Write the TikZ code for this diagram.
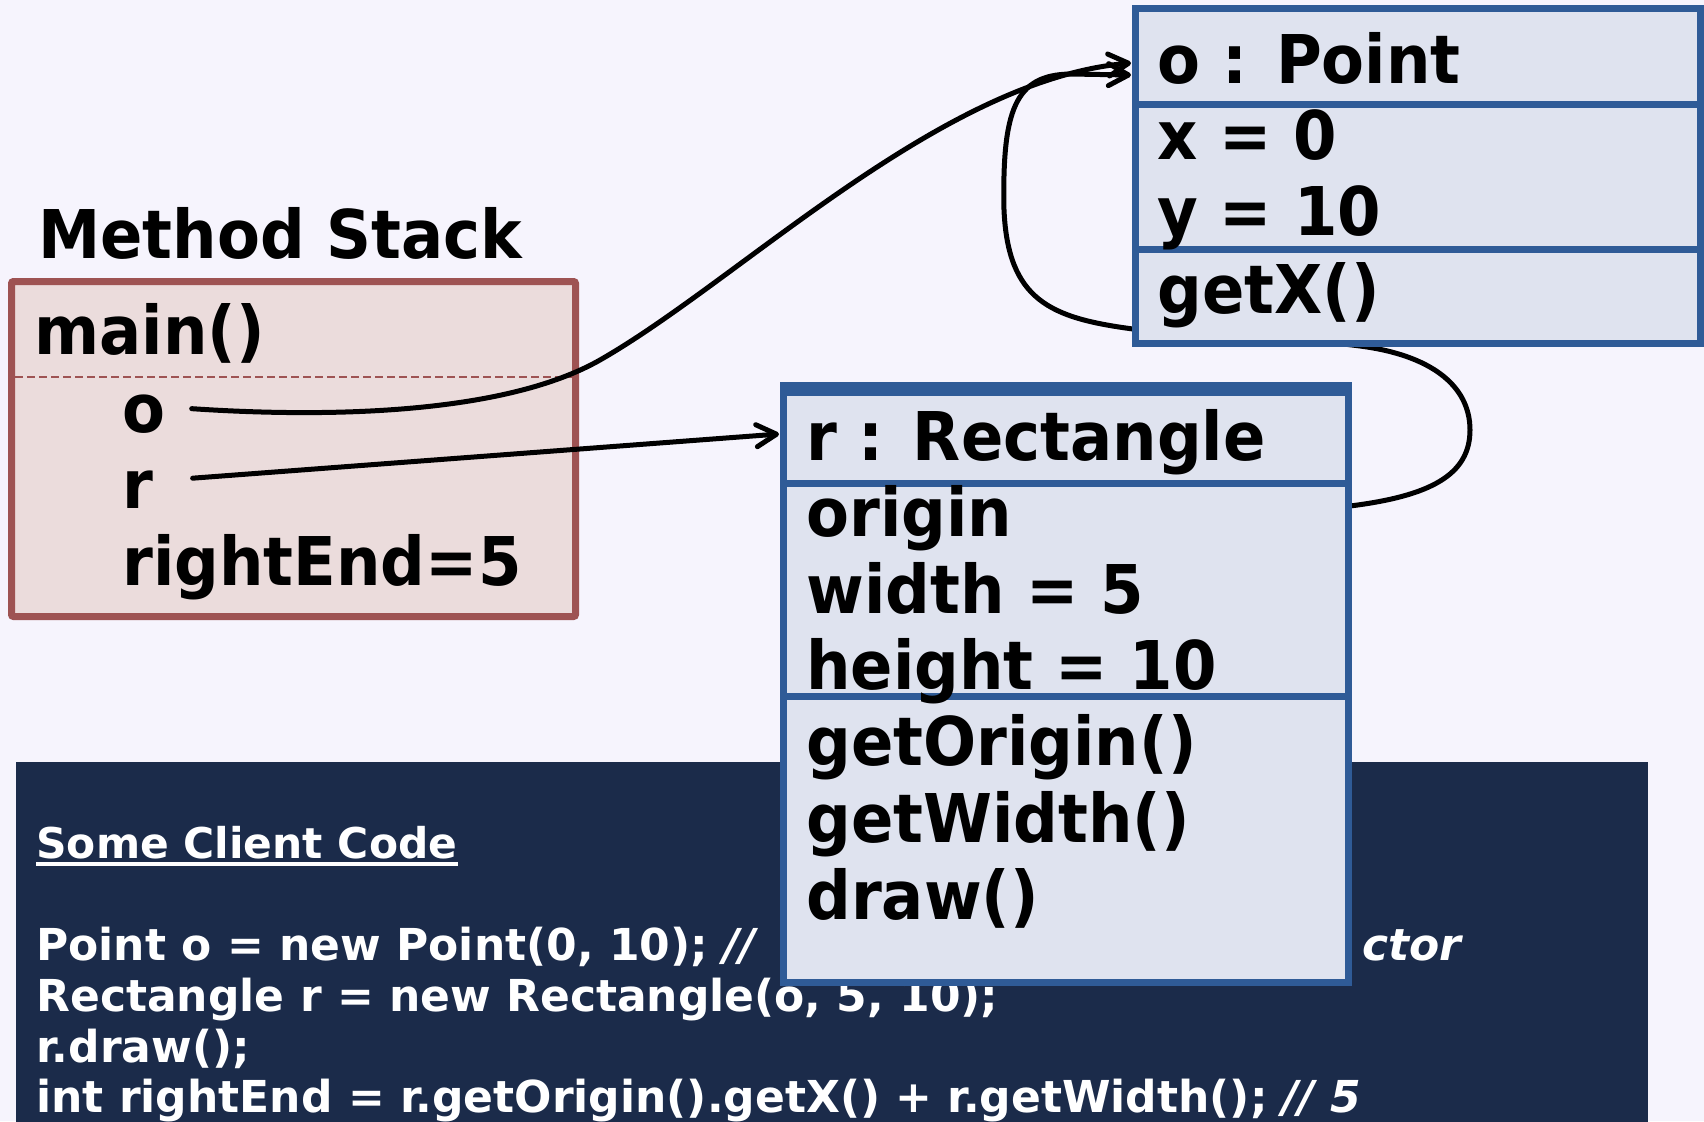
\documentclass[tikz,border=0pt]{standalone}
\usepackage{fontspec}
\setmainfont{DejaVu Sans}
\newfontfamily\bigfont{DejaVu Sans}[FakeStretch=0.93]
\usetikzlibrary{arrows.meta}
\definecolor{bgc}{HTML}{F6F4FD}
\definecolor{stackfill}{HTML}{EBDCDC}
\definecolor{stackline}{HTML}{9E5353}
\definecolor{objfill}{HTML}{DFE3EF}
\definecolor{objline}{HTML}{2F5B97}
\definecolor{panel}{HTML}{1B2B4A}
\begin{document}
\begin{tikzpicture}[x=0.5pt,y=-0.5pt,
  big/.style={anchor=base west, inner sep=0, font=\bigfont\fontsize{33.6}{40}\selectfont\bfseries},
  code/.style={anchor=base west, inner sep=0, text=white, font=\fontsize{22}{26}\selectfont\bfseries},
  cmt/.style={code, font=\fontsize{22}{26}\selectfont\bfseries\itshape},
  ref/.style={line width=2.5pt, -{Straight Barb[length=10pt,width=11pt,round]}, line cap=round, line join=round},
  objbox/.style={draw=objline, fill=objfill, line width=3.5pt, inner sep=0, outer sep=0, anchor=north west},
  divline/.style={objline, line width=3.5pt}]
\fill[bgc] (0,0) rectangle (1704,1121);
\useasboundingbox (0,0) rectangle (1704,1121);

% client code panel
\node[fill=panel, minimum width=816pt, minimum height=182.5pt, anchor=north west, inner sep=0, outer sep=0] (panel) at (16,762) {};
\node[code, font=\fontsize{21.2}{26}\selectfont\bfseries] (heading) at (36,858) {Some Client Code};
\draw[white, line width=1.7pt] ([yshift=-3pt]heading.base west) -- ([yshift=-3pt]heading.base east);
\node[code] (c1) at (36,960) {Point o = new Point(0, 10); \textit{//}};
\node[cmt] (c1b) at (1362,960) {ctor};
\node[code] (c2) at (36,1011) {Rectangle r = new Rectangle(o, 5, 10);};
\node[code] (c3) at (36,1062) {r.draw();};
\node[code] (c4) at (36,1112) {int rightEnd = r.getOrigin().getX() + r.getWidth(); \textit{// 5}};

% method stack
\node[draw=stackline, fill=stackfill, line width=3.5pt, rounded corners=1pt, minimum width=282pt, minimum height=167.5pt, anchor=north west, inner sep=0, outer sep=0] (stack) at (11.5,281.5) {};
\draw[stackline, line width=1pt, dash pattern=on 4pt off 2pt] (15,377) -- (572,377);
\node[big] (title) at (38,258) {Method Stack};
\node[big] (mainm) at (34,354) {main()};
\node[big] (vo) at (122,432) {o};
\node[big] (vr) at (122,508) {r};
\node[big] (vre) at (122,585) {rightEnd=5};

% origin reference (drawn under the Point box)
\coordinate (rorigin) at (1350,506);
\coordinate (ptin2) at (1131,75);
\draw[ref] (rorigin) .. controls (1430,496) and (1470,475) .. (1470,430)
  .. controls (1470,385) and (1430,355) .. (1360,346)
  .. controls (1300,338) and (1200,335) .. (1133,329)
  .. controls (1050,318) and (1008,300) .. (1004,210)
  .. controls (1002,110) and (1015,75) .. (1070,74) -- (ptin2);

% Point object
\node[objbox, minimum width=282.5pt, minimum height=167.5pt] (pointbox) at (1135.5,8.5) {};
\draw[divline] (1135.5,104.5) -- (1700.5,104.5);
\draw[divline] (1135.5,249) -- (1700.5,249);
\node[big] (ptitle) at (1157,83) {o : Point};
\node[big] (px) at (1157,159) {x = 0};
\node[big] (py) at (1157,235) {y = 10};
\node[big] (pgetx) at (1157,313) {getX()};

% Rectangle object
\node[objbox, minimum width=282.5pt, minimum height=298.5pt] (rectbox) at (783.5,385.5) {};
\fill[objline] (780,382) rectangle (1352,396);
\draw[divline] (783.5,483) -- (1348.5,483);
\draw[divline] (783.5,696.5) -- (1348.5,696.5);
\node[big] (rtitle) at (806,460) {r : Rectangle};
\node[big] (rorig) at (806,536) {origin};
\node[big] (rwidth) at (806,613) {width = 5};
\node[big] (rheight) at (806,689) {height = 10};
\node[big] (rgo) at (806,765) {getOrigin()};
\node[big] (rgw) at (806,842) {getWidth()};
\node[big] (rdraw) at (806,919) {draw()};

% references from the stack
\coordinate (ptin1) at (1131,63);
\draw[ref] ([xshift=13pt,yshift=2.5pt]vo.east) .. controls (330,418) and (505,414) .. (600,360)
  .. controls (740,280) and (940,80) .. (ptin1);
\coordinate (rin) at (779,434);
\draw[ref] ([xshift=19.5pt,yshift=5.5pt]vr.east) -- (rin);
\end{tikzpicture}
\end{document}
